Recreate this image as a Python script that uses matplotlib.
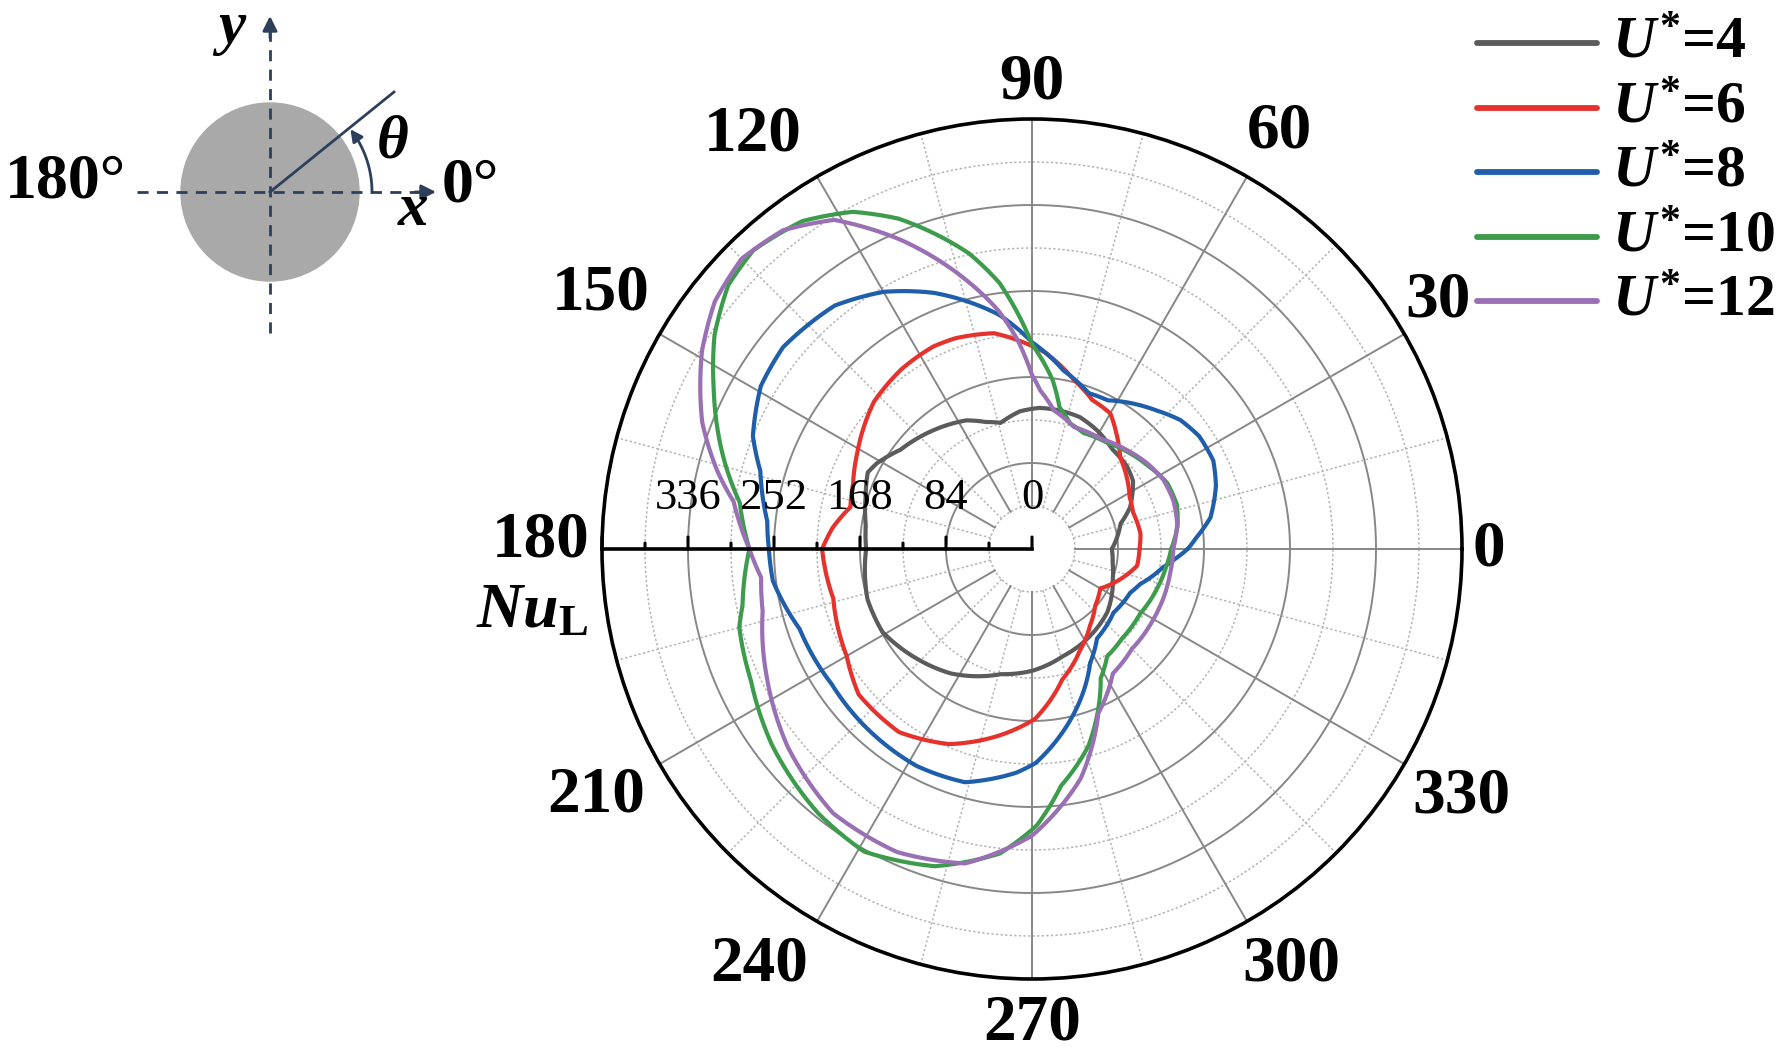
import numpy as np
import matplotlib
matplotlib.use('Agg')
import matplotlib.pyplot as plt
from matplotlib.lines import Line2D
from matplotlib.patches import Circle

plt.rcParams['font.family'] = ['Liberation Serif', 'DejaVu Serif']
plt.rcParams['mathtext.fontset'] = 'custom'
plt.rcParams['mathtext.rm'] = 'Liberation Serif:bold'
plt.rcParams['mathtext.it'] = 'Liberation Serif:italic:bold'
plt.rcParams['mathtext.bf'] = 'Liberation Serif:bold'

# ---------------- data ----------------
legend_labels = [r'$U^{*}$=4', r'$U^{*}$=6', r'$U^{*}$=8', r'$U^{*}$=10', r'$U^{*}$=12']
series_colors = ['#5b5b5b', '#e5322d', '#1f5eaa', '#3c9c4c', '#9a70b4']

theta_u4 = [0, 16, 23, 34, 41, 51, 61, 70, 79, 87, 95, 104, 110, 117, 130, 143, 151, 155, 163, 172,
            180, 197, 209, 224, 237, 256, 270, 286, 304, 320, 340, 350]
r_u4 = [78, 90, 104, 119, 123, 125, 132, 137, 138, 138, 135, 127, 132, 141, 151, 161, 173, 177, 170, 164,
        162, 168, 167, 155, 145, 126, 119, 109, 102, 96, 84, 80]

theta_u6 = [0, 8, 20, 28, 37, 46, 54, 60, 68, 76, 86, 100, 110, 116, 126, 137, 151, 160, 167, 174,
            180, 194, 210, 220, 234, 247, 260, 271, 283, 295, 307, 318, 330, 341, 351]
r_u6 = [105, 107, 105, 108, 116, 124, 140, 153, 157, 170, 192, 214, 219, 220, 217, 211, 195, 186, 182, 196,
        205, 200, 209, 221, 221, 207, 185, 166, 131, 110, 94, 83, 77, 91, 104]

theta_u8 = [0, 4, 10, 19, 26, 34, 41, 48, 56, 63, 70, 80, 90, 98, 111, 120, 129, 141, 149, 158, 164, 174,
            180, 187, 199, 214, 227, 242, 254, 266, 271, 283, 297, 306, 322, 336, 342, 352, 356]
r_u8 = [152, 161, 177, 190, 197, 197, 192, 182, 172, 163, 162, 177, 202, 231, 268, 290, 306, 313, 309, 294, 276, 260,
        257, 255, 240, 236, 238, 240, 237, 219, 209, 170, 125, 108, 101, 105, 111, 129, 140]

theta_u10 = [0, 9, 17, 26, 35, 44, 55, 66, 73, 79, 83, 90, 97, 102, 112, 118, 125, 133, 139, 146, 153, 163, 171,
             180, 191, 195, 205, 217, 231, 241, 253, 264, 271, 277, 286, 298, 305, 315, 329, 342, 352]
r_u10 = [136, 144, 148, 147, 140, 134, 127, 124, 128, 141, 166, 200, 262, 295, 348, 373, 391, 399, 393, 374, 349, 316, 289,
         276, 288, 296, 303, 318, 332, 338, 324, 299, 270, 233, 200, 143, 128, 124, 123, 128, 132]

theta_u12 = [0, 10, 19, 28, 37, 46, 58, 71, 81, 87, 90, 94, 98, 104, 113, 121, 128, 135, 142, 149, 159, 166, 171,
             180, 186, 193, 206, 219, 233, 246, 258, 270, 282, 292, 303, 315, 330, 350]
r_u12 = [138, 144, 146, 145, 140, 134, 127, 126, 137, 155, 170, 205, 235, 272, 328, 375, 395, 401, 393, 376, 345, 317, 295,
         276, 266, 270, 288, 307, 323, 324, 314, 280, 229, 173, 145, 138, 137, 137]

theta_tick_labels = ['0', '30', '60', '90', '120', '150', '180', '210', '240', '270', '300', '330']
radial_tick_labels = ['0', '84', '168', '252', '336']
r_max = 420

all_theta = [theta_u4, theta_u6, theta_u8, theta_u10, theta_u12]
all_r = [r_u4, r_u6, r_u8, r_u10, r_u12]

# ---------------- figure ----------------
W, H = 1782, 1055
fig = plt.figure(figsize=(W / 100, H / 100), dpi=100)

def fx(px):
    return px / W

def fy(py):
    return 1 - py / H

# polar axes: centre (1032,549) px, radius 430 px
cx, cy, R = 1032, 549, 430
ax = fig.add_axes([fx(cx - R), fy(cy + R), 2 * R / W, 2 * R / H], projection='polar')
ax.set_ylim(0, r_max)
ax.grid(False)
ax.set_yticks([])
ax.set_xticks(np.deg2rad(np.arange(0, 360, 30)))
ax.set_xticks(np.deg2rad(np.arange(15, 360, 30)), minor=True)
ax.set_xticklabels([])
ax.tick_params(axis='x', which='major', direction='in', length=12, width=2.2, colors='black', pad=0)
ax.tick_params(axis='x', which='minor', direction='in', length=7, width=1.8, colors='black')
ax.spines['polar'].set_linewidth(2.6)
ax.spines['polar'].set_color('black')

# grid circles
tt = np.linspace(0, 2 * np.pi, 721)
for k in range(1, 10):
    rr = 42 * k
    if k % 2 == 0:
        ax.plot(tt, np.full_like(tt, rr), color='#878787', lw=1.4, zorder=1)
    else:
        ax.plot(tt, np.full_like(tt, rr), color='#b4b4b4', lw=1.1, ls=(0, (1.5, 1.5)), zorder=1)
# spokes
for deg in range(0, 360, 15):
    t = np.deg2rad(deg)
    if deg == 180:
        continue
    if deg % 30 == 0:
        ax.plot([t, t], [42, r_max], color='#878787', lw=1.4, zorder=1)
    else:
        ax.plot([t, t], [42, r_max], color='#b4b4b4', lw=1.1, ls=(0, (1.5, 1.5)), zorder=1)

# curves
lines = []
for th, rv, col, lab in zip(all_theta, all_r, series_colors, legend_labels):
    th_c = np.deg2rad(np.array(th + [th[0] + 360]))
    r_c = np.array(rv + [rv[0]])
    ln, = ax.plot(th_c, r_c, color=col, lw=3.0, label=lab, zorder=5,
                  solid_capstyle='round', solid_joinstyle='round')
    ln.get_path()._interpolation_steps = 30
    lines.append(ln)

# radial axis along 180 deg
ax.plot([np.pi, np.pi], [0, r_max], color='black', lw=2.6, zorder=6, clip_on=False)
for k in range(0, 11):
    rr = 42 * k
    length = 12 if k % 2 == 0 else 6
    ax.annotate('', xy=(np.pi, rr), xytext=(0, length * 0.72), textcoords='offset points',
                arrowprops=dict(arrowstyle='-', color='black', lw=2.2, shrinkA=0, shrinkB=0),
                zorder=6, annotation_clip=False)
for i, lab in enumerate(radial_tick_labels):
    ax.annotate(lab, xy=(np.pi, 84 * i), xytext=(0, 37), textcoords='offset points',
                ha='center', va='center', fontsize=32, color='black', zorder=7)

# theta labels (angle, radius of label centre)
label_layout = [(0, 446), (31.4, 465), (59.4, 474), (90, 456), (124, 488), (149.4, 490),
                (179, 480), (209.5, 489), (236.7, 485), (270, 463), (302, 478), (330, 484)]
for lab, (ang, rad) in zip(theta_tick_labels, label_layout):
    ax.text(np.deg2rad(ang), rad, lab, ha='center', va='center', fontsize=47,
            fontweight='bold', color='black', clip_on=False)

fig.text(fx(532), fy(612), r'$Nu_{\mathrm{L}}$', ha='center', va='center', fontsize=46)

# legend (manual layout)
row_y = [43, 108, 172, 237, 301]
for ln, yy in zip(lines, row_y):
    fig.add_artist(Line2D([fx(1477), fx(1597)], [fy(yy), fy(yy)], color=ln.get_color(),
                          lw=4.2, solid_capstyle='round'))
    fig.text(fx(1612), fy(yy + 15), ln.get_label(), ha='left', va='baseline',
             fontsize=43, fontweight='bold')

# ---------------- schematic (top-left) ----------------
axd = fig.add_axes([0, fy(350), fx(520), 350 / H])
axd.set_xlim(0, 520)
axd.set_ylim(350, 0)
axd.axis('off')
navy = '#2e3f5c'
axd.add_patch(Circle((270, 192), 89, color='#a9a9a9', zorder=1))
axd.plot([137, 422], [192, 192], color=navy, lw=2, ls=(0, (4, 3)), zorder=2)
axd.plot([270, 270], [333, 30], color=navy, lw=2, ls=(0, (4, 3)), zorder=2)
axd.annotate('', xy=(436, 192), xytext=(415, 192),
             arrowprops=dict(arrowstyle='-|>', color=navy, lw=2, mutation_scale=22, shrinkA=0, shrinkB=0))
axd.annotate('', xy=(270, 16), xytext=(270, 38),
             arrowprops=dict(arrowstyle='-|>', color=navy, lw=2, mutation_scale=22, shrinkA=0, shrinkB=0))
axd.plot([270, 394], [192, 92], color=navy, lw=2, zorder=2)
arc_t = np.deg2rad(np.linspace(0, 33, 40))
axd.plot(270 + 102 * np.cos(arc_t), 192 - 102 * np.sin(arc_t), color=navy, lw=2, zorder=2)
a1 = np.deg2rad(33)
a2 = np.deg2rad(38)
axd.annotate('', xy=(270 + 102 * np.cos(a2), 192 - 102 * np.sin(a2)),
             xytext=(270 + 102 * np.cos(a1), 192 - 102 * np.sin(a1)),
             arrowprops=dict(arrowstyle='-|>', color=navy, lw=2, mutation_scale=18, shrinkA=0, shrinkB=0))
axd.text(392, 143, r'$\theta$', ha='center', va='center', fontsize=44)
axd.text(413, 210, r'$x$', ha='center', va='center', fontsize=44)
axd.text(230, 30, r'$y$', ha='center', va='center', fontsize=44)
axd.text(66, 182, '180°', ha='center', va='center', fontsize=46, fontweight='bold')
axd.text(470, 186, '0°', ha='center', va='center', fontsize=46, fontweight='bold')

fig.savefig('out.png', dpi=100)
